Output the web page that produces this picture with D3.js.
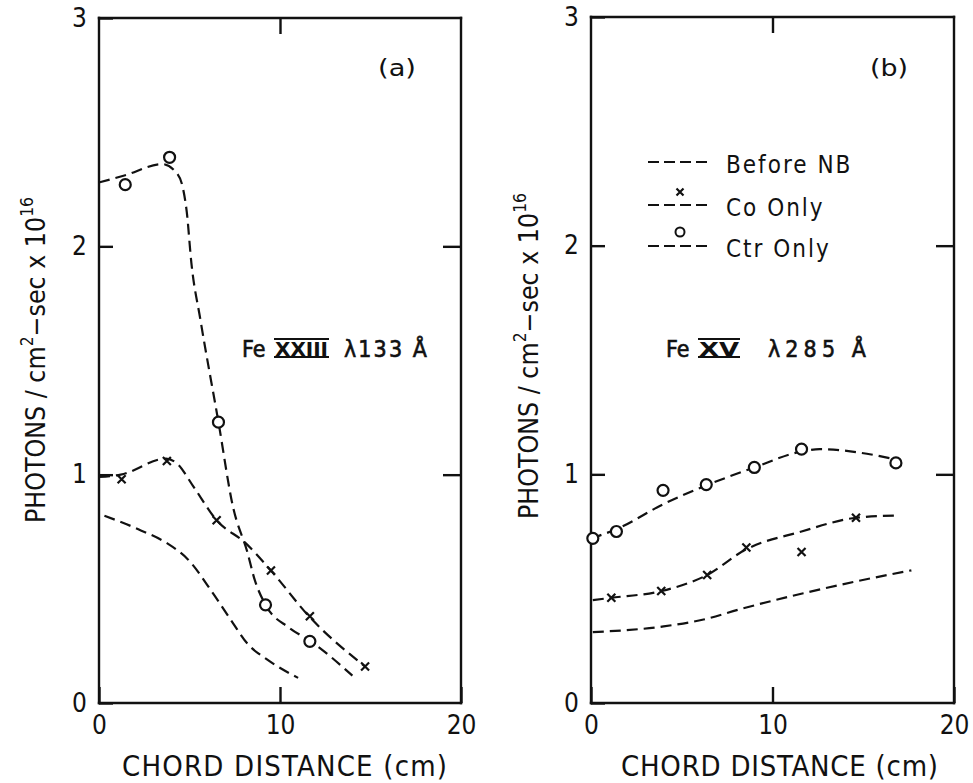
<!DOCTYPE html>
<html>
<head>
<meta charset="utf-8">
<script src="https://cdn.jsdelivr.net/npm/d3@7"></script>
<style>
body { margin: 0; background: #fff; }
text { font-family: "Liberation Sans Narrow", "DejaVu Sans Condensed", "Liberation Sans", sans-serif; fill: #111; }
</style>
</head>
<body>
<svg id="chart" width="973" height="783"></svg>
<script>
// axis ticks shared by both panels
var xTicks = [0, 10, 20];
var yTicks = [0, 1, 2, 3];

// panel (a): Fe XXIII 133 A
var aBeforeX = [0.3, 2.2, 3.75, 4.9, 6.3, 7.4, 8.2, 9.3, 11.0];
var aBeforeY = [0.82, 0.76, 0.70, 0.63, 0.48, 0.35, 0.26, 0.19, 0.11];
var aCoLineX = [0, 1.2, 3.7, 4.3, 5.2, 6.5, 8.1, 9.5, 11.6, 14.7];
var aCoLineY = [0.99, 1.0, 1.07, 1.05, 0.95, 0.80, 0.70, 0.58, 0.38, 0.16];
var aCoPtsX = [1.25, 3.75, 6.5, 9.5, 11.65, 14.7];
var aCoPtsY = [0.98, 1.06, 0.80, 0.58, 0.38, 0.16];
var aCtrLineX = [0, 1.4, 3.5, 4.3, 4.65, 4.85, 5.1, 5.6, 6.6, 7.4, 8.2, 8.6, 9.2, 10.5, 11.7, 14.0];
var aCtrLineY = [2.28, 2.31, 2.36, 2.32, 2.25, 2.15, 1.93, 1.68, 1.23, 0.86, 0.66, 0.54, 0.43, 0.33, 0.27, 0.12];
var aCtrPtsX = [1.45, 3.9, 6.6, 9.2, 11.65];
var aCtrPtsY = [2.27, 2.39, 1.23, 0.43, 0.27];

// panel (b): Fe XV 285 A
var bBeforeX = [0.1, 4.0, 6.2, 8.2, 11.7, 14.5, 17.65];
var bBeforeY = [0.31, 0.335, 0.365, 0.41, 0.48, 0.53, 0.58];
var bCoLineX = [0.1, 1.1, 3.9, 6.4, 8.5, 11.6, 14.6, 16.8];
var bCoLineY = [0.45, 0.46, 0.49, 0.56, 0.67, 0.75, 0.81, 0.82];
var bCoPtsX = [1.12, 3.87, 6.4, 8.56, 11.6, 14.6];
var bCoPtsY = [0.46, 0.49, 0.56, 0.68, 0.66, 0.81];
var bCtrLineX = [0, 1.4, 4.0, 6.3, 9.0, 11.6, 12.6, 15.2, 16.5];
var bCtrLineY = [0.72, 0.76, 0.87, 0.95, 1.03, 1.10, 1.11, 1.09, 1.07];
var bCtrPtsX = [0.1, 1.4, 3.97, 6.35, 9.0, 11.6, 16.8];
var bCtrPtsY = [0.72, 0.75, 0.93, 0.955, 1.03, 1.11, 1.05];

var legendNames = ["Before NB", "Co Only", "Ctr Only"];

function pairs(xs, ys) {
    return xs.map(function(v, i) { return [v, ys[i]]; });
}

var panels = [
    { left: 99, right: 461, top: 18, bottom: 703, tag: "(a)", tagX: 378,
      ion: "XXIII", wave: "\u03bb133 \u00c5", ionX: 242, ionW: 53, waveX: 344, waveW: 83, ionBase: 357,
      ylabX: 45, ylabY: 360, xTitle: "CHORD DISTANCE  (cm)", xTitleX: 122, xTitleW: 325,
      before: pairs(aBeforeX, aBeforeY), coLine: pairs(aCoLineX, aCoLineY), coPts: pairs(aCoPtsX, aCoPtsY),
      ctrLine: pairs(aCtrLineX, aCtrLineY), ctrPts: pairs(aCtrPtsX, aCtrPtsY) },
    { left: 591, right: 954, top: 17, bottom: 703, tag: "(b)", tagX: 870,
      ion: "XV", wave: "\u03bb285 \u00c5", ionX: 666, ionW: 40, waveX: 768, waveW: 98, ionBase: 357,
      ylabX: 538, ylabY: 356, xTitle: "CHORD DISTANCE (cm)", xTitleX: 621, xTitleW: 317,
      before: pairs(bBeforeX, bBeforeY), coLine: pairs(bCoLineX, bCoLineY), coPts: pairs(bCoPtsX, bCoPtsY),
      ctrLine: pairs(bCtrLineX, bCtrLineY), ctrPts: pairs(bCtrPtsX, bCtrPtsY), legend: true }
];

var svg = d3.select("#chart");
var ink = "#111";
var dash = "11,6";
var blank = function() { return ""; };

function xMark(g, cx, cy, s) {
    g.append("path")
        .attr("d", "M" + (cx - s) + "," + (cy - s) + "L" + (cx + s) + "," + (cy + s) +
                   "M" + (cx - s) + "," + (cy + s) + "L" + (cx + s) + "," + (cy - s))
        .attr("stroke", ink).attr("stroke-width", 2.2).attr("fill", "none");
}

function styleAxis(sel) {
    sel.attr("font-family", null).attr("font-size", null).attr("color", ink);
    sel.selectAll("path.domain").remove();
    sel.selectAll(".tick line").attr("stroke", ink).attr("stroke-width", 2.4);
    sel.selectAll("text").attr("font-size", 26);
}

panels.forEach(function(p) {
    var x = d3.scaleLinear().domain([0, 20]).range([p.left, p.right]);
    var y = d3.scaleLinear().domain([0, 3]).range([p.bottom, p.top]);
    var g = svg.append("g");

    // frame: one line per side
    var sides = [[0, 0, 20, 0], [20, 0, 20, 3], [20, 3, 0, 3], [0, 3, 0, 0]];
    g.selectAll("line.frame").data(sides).enter().append("line")
        .attr("class", "frame")
        .attr("x1", function(d) { return x(d[0]); })
        .attr("y1", function(d) { return y(d[1]); })
        .attr("x2", function(d) { return x(d[2]); })
        .attr("y2", function(d) { return y(d[3]); })
        .attr("stroke", ink).attr("stroke-width", 2.4)
        .attr("stroke-linecap", "square");

    // inward ticks and labels
    g.append("g").attr("transform", "translate(0," + y(0) + ")")
        .call(d3.axisBottom(x).tickValues(xTicks).tickSize(-16).tickSizeOuter(0).tickPadding(13).tickFormat(d3.format("d")))
        .call(styleAxis);
    g.append("g").attr("transform", "translate(" + x(0) + ",0)")
        .call(d3.axisLeft(y).tickValues(yTicks).tickSize(-14).tickSizeOuter(0).tickPadding(12).tickFormat(d3.format("d")))
        .call(styleAxis);
    g.append("g").attr("transform", "translate(0," + y(3) + ")")
        .call(d3.axisTop(x).tickValues([10]).tickSize(-16).tickSizeOuter(0).tickFormat(blank))
        .call(styleAxis);
    g.append("g").attr("transform", "translate(" + x(20) + ",0)")
        .call(d3.axisRight(y).tickValues([1, 2]).tickSize(-18).tickSizeOuter(0).tickFormat(blank))
        .call(styleAxis);

    var line = d3.line()
        .x(function(d) { return x(d[0]); })
        .y(function(d) { return y(d[1]); })
        .curve(d3.curveMonotoneX);

    [p.before, p.coLine, p.ctrLine].forEach(function(s) {
        g.append("path").datum(s).attr("d", line)
            .attr("fill", "none").attr("stroke", ink).attr("stroke-width", 2.2)
            .attr("stroke-dasharray", dash);
    });

    p.coPts.forEach(function(d) { xMark(g, x(d[0]), y(d[1]), 4); });

    g.selectAll("circle.ctr").data(p.ctrPts).enter().append("circle")
        .attr("class", "ctr")
        .attr("cx", function(d) { return x(d[0]); })
        .attr("cy", function(d) { return y(d[1]); })
        .attr("r", 5.5)
        .attr("fill", "#fff").attr("stroke", ink).attr("stroke-width", 2.2);

    // panel tag
    g.append("text").attr("x", p.tagX).attr("y", 76).attr("font-size", 23)
        .attr("textLength", 38).attr("lengthAdjust", "spacingAndGlyphs").text(p.tag);

    // ion label with barred roman numeral
    g.append("text").attr("x", p.ionX).attr("y", p.ionBase).attr("font-size", 23)
        .attr("stroke", ink).attr("stroke-width", 0.6).text("Fe");
    var rx = p.ionX + 33;
    g.append("text").attr("x", rx).attr("y", p.ionBase - 1).attr("font-size", 19)
        .attr("font-family", "Liberation Serif, serif").attr("font-weight", "bold")
        .attr("textLength", p.ionW).attr("lengthAdjust", "spacingAndGlyphs").text(p.ion);
    g.append("line").attr("x1", rx - 1).attr("x2", rx + p.ionW + 1).attr("y1", p.ionBase - 18).attr("y2", p.ionBase - 18)
        .attr("stroke", ink).attr("stroke-width", 2);
    g.append("line").attr("x1", rx - 1).attr("x2", rx + p.ionW + 1).attr("y1", p.ionBase).attr("y2", p.ionBase)
        .attr("stroke", ink).attr("stroke-width", 2);
    g.append("text").attr("x", p.waveX).attr("y", p.ionBase).attr("font-size", 23)
        .attr("stroke", ink).attr("stroke-width", 0.6)
        .attr("textLength", p.waveW).attr("lengthAdjust", "spacing").text(p.wave);

    // y axis title
    var yl = g.append("text")
        .attr("transform", "translate(" + p.ylabX + "," + p.ylabY + ") rotate(-90)")
        .attr("text-anchor", "middle").attr("font-size", 26)
        .attr("textLength", 326).attr("lengthAdjust", "spacingAndGlyphs");
    yl.append("tspan").text("PHOTONS / cm");
    yl.append("tspan").attr("dy", -12).attr("font-size", 17).text("2");
    yl.append("tspan").attr("dy", 12).text("\u2212sec x 10");
    yl.append("tspan").attr("dy", -12).attr("font-size", 17).text("16");

    // x axis title
    g.append("text").attr("x", p.xTitleX).attr("y", 776).attr("font-size", 29)
        .attr("textLength", p.xTitleW).attr("lengthAdjust", "spacing").text(p.xTitle);

    if (p.legend) {
        var lx0 = 648, lx1 = 710, ly = [162, 205, 246];
        ly.forEach(function(v, i) {
            g.append("line").attr("x1", lx0).attr("x2", lx1).attr("y1", v).attr("y2", v)
                .attr("stroke", ink).attr("stroke-width", 2.2).attr("stroke-dasharray", "11,5");
            g.append("text").attr("x", 726).attr("y", v + 11).attr("font-size", 24)
                .attr("letter-spacing", 2).text(legendNames[i]);
        });
        xMark(g, 680, 192, 3.5);
        g.append("circle").attr("cx", 680).attr("cy", 232).attr("r", 4.5)
            .attr("fill", "#fff").attr("stroke", ink).attr("stroke-width", 2);
    }
});
</script>
</body>
</html>
